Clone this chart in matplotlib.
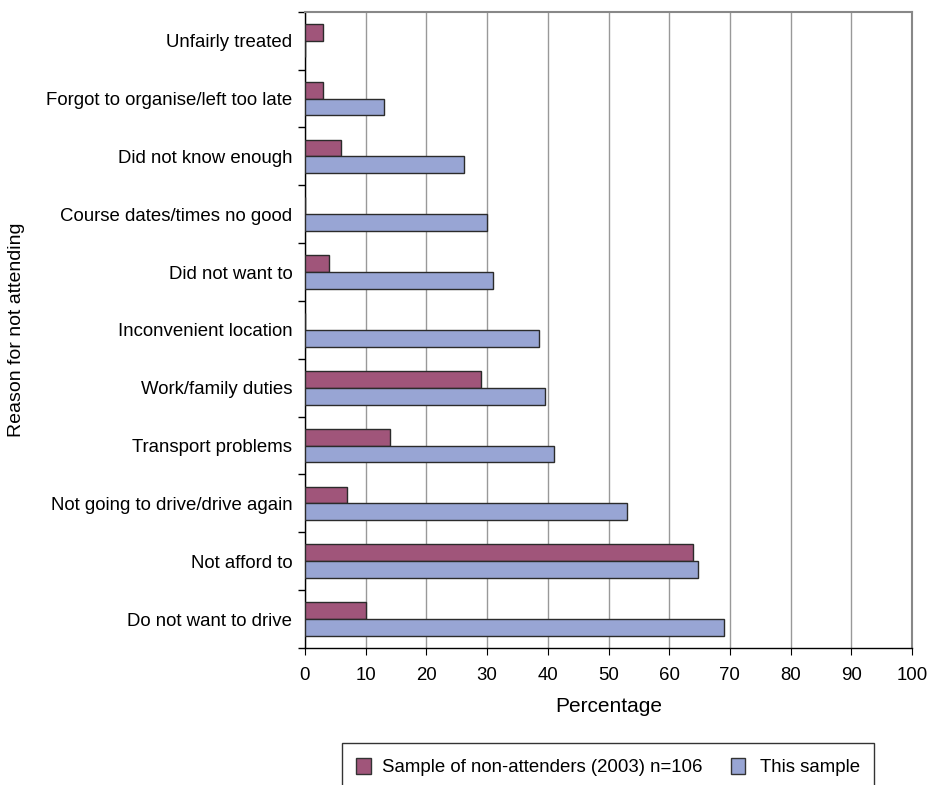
import numpy as np
import matplotlib.pyplot as plt
from matplotlib.patches import Rectangle

plt.rcParams['font.family'] = ['Liberation Sans', 'DejaVu Sans']

reasons = [
    "Do not want to drive",
    "Not afford to",
    "Not going to drive/drive again",
    "Transport problems",
    "Work/family duties",
    "Inconvenient location",
    "Did not want to",
    "Course dates/times no good",
    "Did not know enough",
    "Forgot to organise/left too late",
    "Unfairly treated",
]
sample_2003 = [10, 64, 7, 14, 29, 0, 4, 0, 6, 3, 3]
this_sample = [69, 64.7, 53, 41, 39.5, 38.5, 31, 30, 26.2, 13, 0]

red = "#A0557A"
blue = "#98A5D4"

fig = plt.figure(figsize=(9.31, 7.85), dpi=100)
ax = fig.add_axes([0.3276, 0.1745, 0.6520, 0.8105])

y = np.arange(len(reasons))
h = 0.29
ax.barh(y + h / 2, sample_2003, height=h, color=red, edgecolor="#2b2b2b", linewidth=1.0, zorder=3)
ax.barh(y - h / 2, this_sample, height=h, color=blue, edgecolor="#2b2b2b", linewidth=1.0, zorder=3)

ax.set_xlim(0, 100)
ax.set_ylim(-0.5, len(reasons) - 0.5)
ax.set_xticks(np.arange(0, 101, 10))
ax.xaxis.grid(True, color="#999999", linewidth=1.0, zorder=0)

ax.set_yticks(y)
ax.set_yticklabels(reasons, fontsize=13.4)
ax.set_yticks(np.arange(-0.5, len(reasons), 1), minor=True)
ax.tick_params(axis="y", which="major", length=0, pad=9)
ax.tick_params(axis="y", which="minor", length=5, width=1, direction="out")
ax.tick_params(axis="x", labelsize=13.4, length=5, direction="out", pad=9)

for s in ["top", "right"]:
    ax.spines[s].set_color("#888888")
    ax.spines[s].set_linewidth(1.5)
for s in ["left", "bottom"]:
    ax.spines[s].set_color("black")
    ax.spines[s].set_linewidth(1.0)

ax.set_xlabel("Percentage", fontsize=15, labelpad=9)
fig.text(17 / 931, 1 - 330 / 785, "Reason for not attending", rotation=90,
         fontsize=14, ha="center", va="center")

# legend box runs off the bottom edge
fig.patches.append(Rectangle((342 / 931, -0.02), 532 / 931, 1 - 743 / 785 + 0.02,
                             transform=fig.transFigure, facecolor="white",
                             edgecolor="#333333", linewidth=1.0))
fig.patches.append(Rectangle((356 / 931, 1 - 774 / 785), 15 / 931, 16 / 785,
                             transform=fig.transFigure, facecolor=red,
                             edgecolor="#333333", linewidth=1.0))
fig.text(382 / 931, 1 - 767 / 785, "Sample of non-attenders (2003) n=106",
         fontsize=13.4, va="center")
fig.patches.append(Rectangle((731 / 931, 1 - 774 / 785), 14 / 931, 16 / 785,
                             transform=fig.transFigure, facecolor=blue,
                             edgecolor="#333333", linewidth=1.0))
fig.text(760 / 931, 1 - 767 / 785, "This sample", fontsize=13.4, va="center")

fig.savefig("out.png", dpi=100)
